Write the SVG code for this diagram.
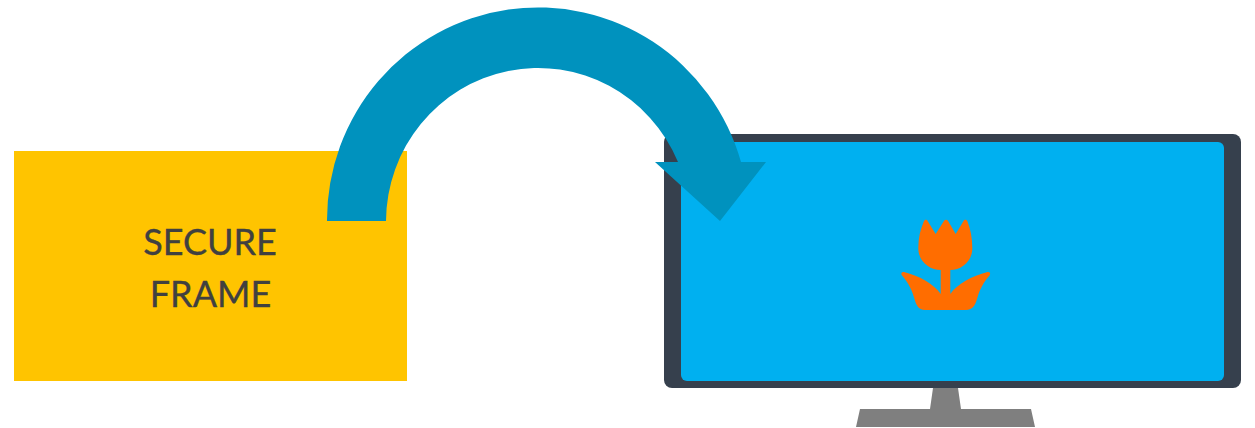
<svg xmlns="http://www.w3.org/2000/svg" width="1255" height="428" viewBox="0 0 1255 428">
<style>
.label{font-family:"Lato","Liberation Sans",sans-serif;font-size:36px;fill:#404040;stroke:#404040;stroke-width:.35px;text-anchor:middle}
</style>
<rect width="1255" height="428" fill="#ffffff"/>
<g id="secure-frame">
<rect x="14" y="151" width="393" height="230" fill="#ffc400"/>
<text class="label" x="210" y="255">SECURE</text>
<text class="label" x="210.500" y="306.500">FRAME</text>
</g>
<g id="monitor">
<path d="M933 388H958L961 409H1031L1035 427H856L860 409H930Z" fill="#7f7f7f"/>
<rect x="664" y="134" width="577" height="254" rx="8" fill="#36404d"/>
<rect x="681" y="142" width="543" height="239" rx="6" fill="#00b0f0"/>
<path id="tulip" fill="#ff6d00" d="M923.800 221.500C924.700 219.300 926.700 219.300 927.800 221.200L935.700 234L943.900 221C945 219.300 947 219.300 948.100 221L955.700 234L963.400 221.200C964.500 219.300 966.700 219.300 967.500 221.500C970.500 229 972.300 238 972.300 248C972.300 262 961 270 950.300 270V294C957 284 972 276 987.500 272C990 271.500 990.800 273.500 989.500 275.500C983 283 979.500 290 977 299C975 306 972 310 966 310H925C919 310 916.500 306 914.500 299C912 290 908.500 283 902 275.500C900.700 273.500 901.500 271.500 904 272C919.500 276 934 284 940.700 294V270C930 270 918.300 262 918.300 248C918.300 238 920.500 229 923.800 221.500Z"/>
</g>
<g id="connectors">
<path id="curved-arrow" fill="#0092be" d="M327 221A211 212.500 0 0 1 741 162H766L720 221L655 162H678A152 154 0 0 0 386 221Z"/>
</g>
</svg>
